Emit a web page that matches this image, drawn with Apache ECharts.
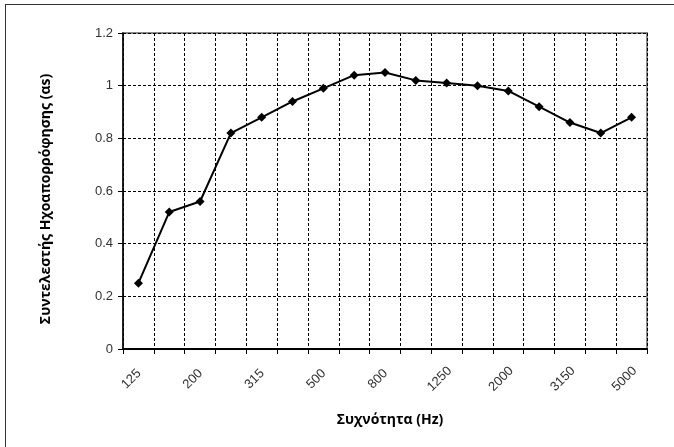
<!DOCTYPE html>
<html>
<head>
<meta charset="utf-8">
<script src="https://cdn.jsdelivr.net/npm/echarts@6/dist/echarts.min.js"></script>
<style>
html,body{margin:0;padding:0;background:#fff;}
#wrap{position:absolute;left:0;top:0;width:674px;height:447px;}
#frame{position:absolute;left:5px;top:4px;width:680px;height:460px;border-left:1.5px solid #333;border-top:1.5px solid #333;}
#chart{position:absolute;left:0;top:0;width:674px;height:447px;}
</style>
</head>
<body>
<div id="wrap"><div id="frame"></div><div id="chart"></div></div>
<script>
const categories = ['125','160','200','250','315','400','500','630','800','1000','1250','1600','2000','2500','3150','4000','5000'];
const absorption = [0.25,0.52,0.56,0.82,0.88,0.94,0.99,1.04,1.05,1.02,1.01,1.00,0.98,0.92,0.86,0.82,0.88];
const yTicks = [0,0.2,0.4,0.6,0.8,1,1.2];
const xTitle = 'Συχνότητα (Hz)';
const yTitle = 'Συντελεστής Ηχοαπορρόφησης (αs)';

const chart = echarts.init(document.getElementById('chart'), null, {renderer:'canvas'});
chart.setOption({
  animation:false,
  backgroundColor:'transparent',
  grid:{left:123,right:27,top:33,bottom:98,show:true,borderColor:'#888',borderWidth:2,backgroundColor:'transparent'},
  xAxis:{
    type:'category',
    data:categories,
    boundaryGap:true,
    name:xTitle,
    nameLocation:'middle',
    nameGap:64,
    nameTextStyle:{fontFamily:'Open Sans',fontWeight:'bold',fontSize:14,color:'#000',verticalAlign:'top',padding:[0,0,0,10]},
    axisLine:{lineStyle:{color:'#000',width:2}},
    axisTick:{show:true,interval:0,length:5,lineStyle:{color:'#000',width:1}},
    axisLabel:{interval:1,rotate:45,margin:23,fontFamily:'Liberation Sans',fontSize:13,color:'#333',align:'center',verticalAlign:'middle',padding:[0,20,0,0]},
    splitLine:{show:true,interval:0,lineStyle:{color:'#000',type:[3,2],width:1}}
  },
  yAxis:{
    type:'value',
    min:yTicks[0],
    max:yTicks[yTicks.length-1],
    interval:0.2,
    name:yTitle,
    nameLocation:'middle',
    nameGap:70,
    nameTextStyle:{fontFamily:'Open Sans',fontWeight:'bold',fontSize:14,color:'#000',padding:[0,16,0,0]},
    axisLine:{show:true,lineStyle:{color:'#000',width:1.5}},
    axisTick:{show:true,length:5,lineStyle:{color:'#000'}},
    axisLabel:{margin:10,fontFamily:'Liberation Sans',fontSize:13,color:'#333',
      formatter:function(v){return String(Math.round(v*10)/10);}},
    splitLine:{show:true,lineStyle:{color:'#000',type:[3,2],width:1}}
  },
  series:[{
    type:'line',
    data:absorption,
    symbol:'diamond',
    symbolSize:9,
    showAllSymbol:true,
    itemStyle:{color:'#000'},
    lineStyle:{color:'#000',width:2}
  }]
});
</script>
</body>
</html>
